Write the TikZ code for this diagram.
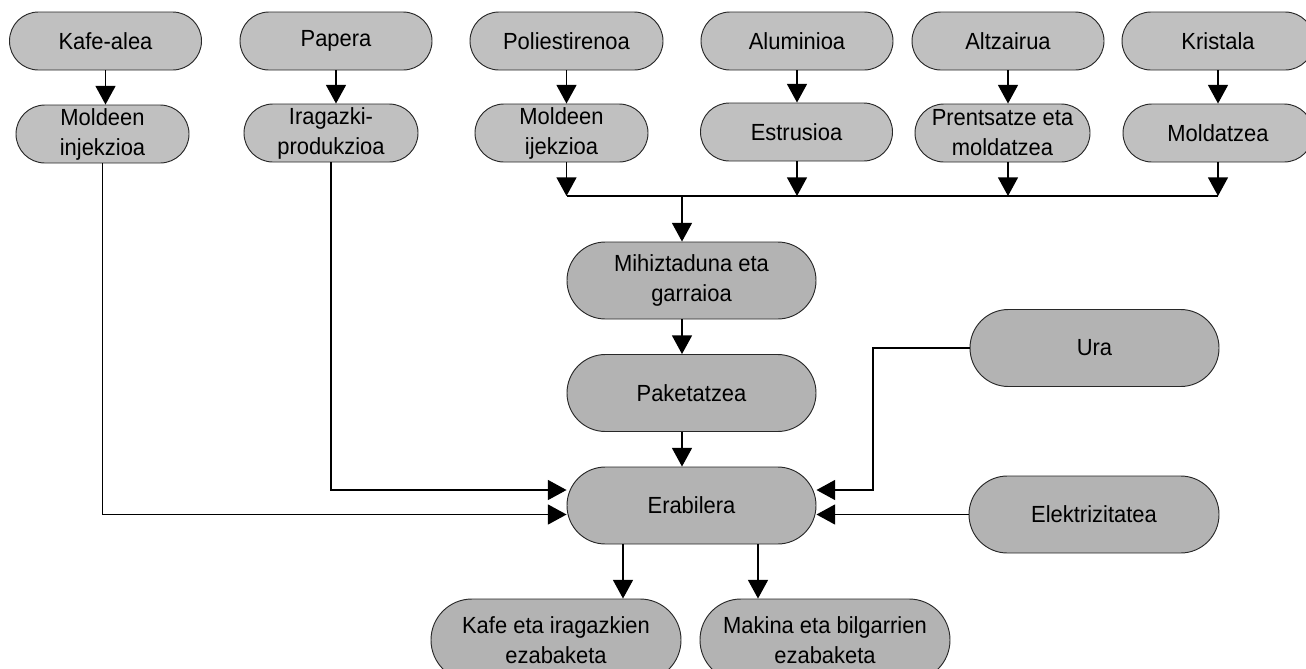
\documentclass[tikz,border=0pt]{standalone}
\usepackage{fontspec}
\setmainfont{Liberation Sans}[FakeStretch=0.94]
\usetikzlibrary{arrows.meta}
\definecolor{fillA}{RGB}{192,192,192}
\definecolor{fillB}{RGB}{179,179,179}
\definecolor{edgeC}{RGB}{40,40,40}
\begin{document}
\begin{tikzpicture}[x=0.75pt,y=-0.75pt,
  pill/.style={draw=edgeC, line width=0.7pt, inner sep=0pt, align=center,
    font=\fontsize{17.5}{22.5}\selectfont, text=black},
  pillS/.style={pill, fill=fillA, minimum height=43.5pt, rounded corners=21.7pt, minimum width=#1*0.75pt},
  pillB/.style={pill, fill=fillB, minimum height=57.75pt, rounded corners=28.8pt, minimum width=#1*0.75pt},
  pillC/.style={pill, fill=fillB, minimum height=61.5pt, rounded corners=30.7pt, minimum width=#1*0.75pt},
  arr/.style={line width=1.1pt, -{Triangle[length=14pt,width=15pt]}},
  ln/.style={line width=1.1pt}]
\useasboundingbox (0,0) rectangle (1306,668);

% row 1
\node[pillS=192] (k1) at (105.5,41) {Kafe-alea};
\node[pillS=192] (p1) at (336,41) {Papera};
\node[pillS=193] (s1) at (566.5,41) {Poliestirenoa};
\node[pillS=192] (a1) at (797,41) {Aluminioa};
\node[pillS=192] (z1) at (1008,41) {Altzairua};
\node[pillS=192] (c1) at (1218,41) {Kristala};

% row 2
\node[pillS=173] (k2) at (102.5,134) {Moldeen\\injekzioa};
\node[pillS=174] (p2) at (331,133) {Iragazki-\\produkzioa};
\node[pillS=173] (s2) at (561.5,133) {Moldeen\\ijekzioa};
\node[pillS=192] (a2) at (796.5,132) {Estrusioa};
\node[pillS=175] (z2) at (1002.5,133) {Prentsatze eta\\moldatzea};
\node[pillS=190] (c2) at (1218,133) {Moldatzea};

% middle
\node[pillB=249] (m) at (691.5,280.5) {Mihiztaduna eta\\garraioa};
\node[pillB=249] (pk) at (691.5,393) {Paketatzea};
\node[pillB=249] (e) at (691.5,505.5) {Erabilera};
\node[pillB=249] (u) at (1094.5,348) {Ura};
\node[pillB=250] (el) at (1094,514.5) {Elektrizitatea};

% bottom
\node[pillC=250] (b1) at (556,640) {Kafe eta iragazkien\\ezabaketa};
\node[pillC=250] (b2) at (825,640) {Makina eta bilgarrien\\ezabaketa};

\coordinate (bus) at (682,196);
\coordinate (j) at (873,490);
\coordinate (o1) at (623,580);
\coordinate (o2) at (758,580);

% row1 -> row2
\foreach \t/\b in {k1/k2,p1/p2,s1/s2,a1/a2,z1/z2,c1/c2}
  \draw[arr] (\t.south) -- (\t.south |- \b.north);

% row2 -> bus
\foreach \t/\b in {s1/s2,a1/a2,z1/z2,c1/c2}
  \draw[arr] (\t.south |- \b.south) -- (\t.south |- bus);
\draw[ln] (s1.south |- bus) -- (c1.south |- bus);

\draw[arr] (bus) -- (bus |- m.north);
\draw[arr] (m.south -| bus) -- (pk.north -| bus);
\draw[arr] (pk.south -| bus) -- (e.north -| bus);

% side inputs
\draw[arr] (k2.south) |- (el.west -| e.west);
\draw[arr] (p2.south) |- (j -| e.west);
\draw[arr] (u.west) -| (j) -- (j -| e.east);
\draw[arr] (el.west) -- (el.west -| e.east);

% outputs
\draw[arr] (e.south -| o1) -- (b1.north -| o1);
\draw[arr] (e.south -| o2) -- (b2.north -| o2);
\end{tikzpicture}
\end{document}
